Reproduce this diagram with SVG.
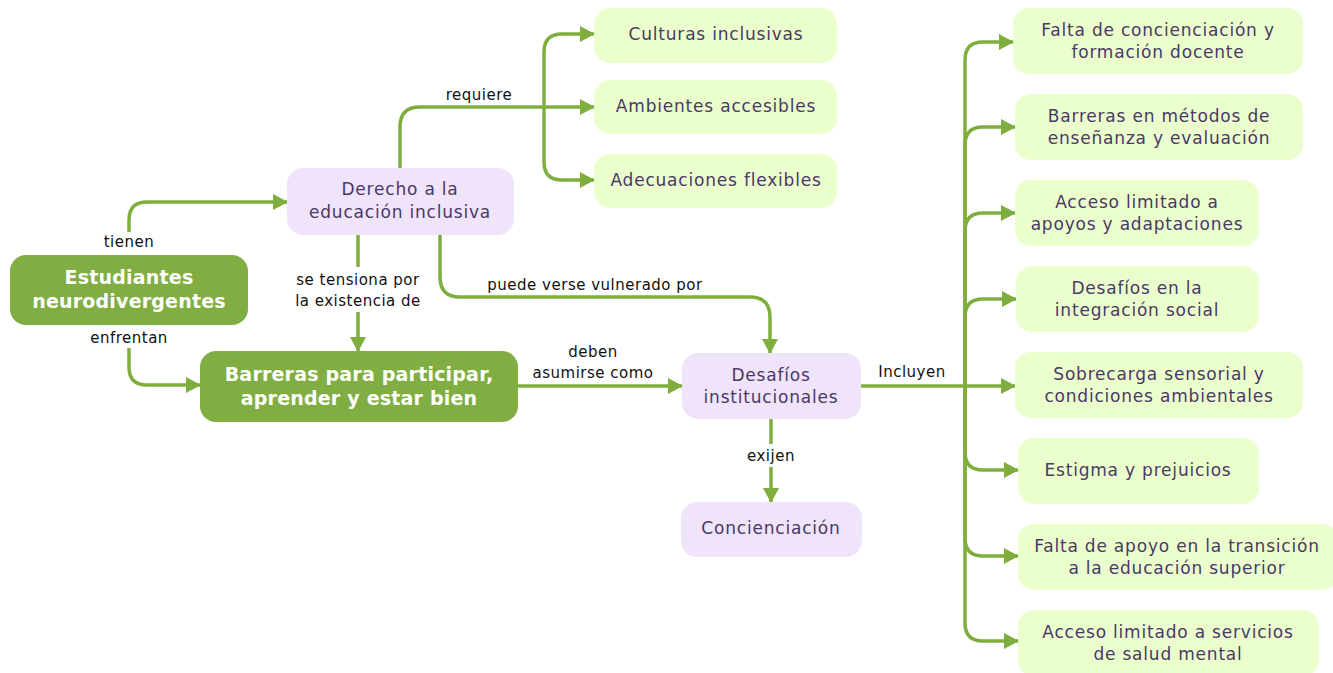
<svg xmlns="http://www.w3.org/2000/svg" width="1333" height="673" viewBox="0 0 1333 673">
<style>
.main rect{fill:#80ae42}
.main text{fill:#ffffff;font-family:"DejaVu Sans",sans-serif;font-size:19px;font-weight:bold;text-anchor:middle;letter-spacing:0.2px}
.lav rect{fill:#f0e4fa}
.lg rect{fill:#eaffcb}
.lav text,.lg text{fill:#4a3868;font-family:"DejaVu Sans",sans-serif;font-size:17px;letter-spacing:0.8px;text-anchor:middle}
.conn path{fill:none;stroke:#7fae3f;stroke-width:3.5}
.lbl{fill:#111111;font-family:"DejaVu Sans",sans-serif;font-size:15px;letter-spacing:0.5px;text-anchor:middle}
</style>
<defs>
<marker id="ah" markerUnits="userSpaceOnUse" markerWidth="15" markerHeight="18" refX="14" refY="9" orient="auto">
<path d="M0,1.5 L14,9 L0,16.5 Z" fill="#7fae3f" stroke="#7fae3f" stroke-width="1" stroke-linejoin="round"/>
</marker>
</defs>
<rect width="1333" height="673" fill="#ffffff"/>
<g class="conn">
<path d="M129,232 V220 Q129,202 147,202 H287" marker-end="url(#ah)"/>
<path d="M129,348 V367 Q129,385 147,385 H200" marker-end="url(#ah)"/>
<path d="M358,235 V267"/>
<path d="M358,312 V351" marker-end="url(#ah)"/>
<path d="M440,235 V277 Q440,297 460,297 H750 Q770,297 770,317 V353" marker-end="url(#ah)"/>
<path d="M400,168 V127 Q400,107 420,107 H594" marker-end="url(#ah)"/>
<path d="M544,107 V52 Q544,34 562,34 H594" marker-end="url(#ah)"/>
<path d="M544,107 V162 Q544,180 562,180 H594" marker-end="url(#ah)"/>
<path d="M518,386 H682" marker-end="url(#ah)"/>
<path d="M771,419 V444"/>
<path d="M771,467 V502" marker-end="url(#ah)"/>
<path d="M861,386 H1015" marker-end="url(#ah)"/>
<path d="M965,386 V60 Q965,42 983,42 H1013" marker-end="url(#ah)"/>
<path d="M965,386 V145 Q965,127 983,127 H1015" marker-end="url(#ah)"/>
<path d="M965,386 V231 Q965,213 983,213 H1015" marker-end="url(#ah)"/>
<path d="M965,386 V317 Q965,299 983,299 H1016" marker-end="url(#ah)"/>
<path d="M965,386 V452 Q965,470 983,470 H1018" marker-end="url(#ah)"/>
<path d="M965,386 V538 Q965,556 983,556 H1018" marker-end="url(#ah)"/>
<path d="M965,386 V623 Q965,641 983,641 H1018" marker-end="url(#ah)"/>
</g>
<g id="labels">
<text class="lbl" x="129" y="247">tienen</text>
<text class="lbl" x="129" y="343">enfrentan</text>
<text class="lbl" x="358" y="285">se tensiona por</text>
<text class="lbl" x="358" y="306">la existencia de</text>
<text class="lbl" x="595" y="290">puede verse vulnerado por</text>
<text class="lbl" x="479" y="100">requiere</text>
<text class="lbl" x="593" y="357">deben</text>
<text class="lbl" x="593" y="378">asumirse como</text>
<text class="lbl" x="771" y="461">exijen</text>
<text class="lbl" x="912" y="377">Incluyen</text>
</g>
<g id="estudiantes" class="main"><rect x="10" y="255" width="238" height="70" rx="16"/><text x="129" y="284">Estudiantes</text><text x="129" y="308">neurodivergentes</text></g>
<g id="derecho" class="lav"><rect x="287" y="168" width="227" height="67" rx="16"/><text x="400" y="195">Derecho a la</text><text x="400" y="218">educación inclusiva</text></g>
<g id="barreras" class="main"><rect x="200" y="351" width="318" height="71" rx="16"/><text x="359" y="381">Barreras para participar,</text><text x="359" y="405">aprender y estar bien</text></g>
<g id="desafios" class="lav"><rect x="682" y="353" width="179" height="66" rx="16"/><text x="771" y="381">Desafíos</text><text x="771" y="403">institucionales</text></g>
<g id="concienciacion" class="lav"><rect x="681" y="502" width="181" height="55" rx="16"/><text x="771" y="534">Concienciación</text></g>
<g id="culturas" class="lg"><rect x="594" y="8" width="243" height="55" rx="16"/><text x="716" y="40">Culturas inclusivas</text></g>
<g id="ambientes" class="lg"><rect x="594" y="80" width="243" height="54" rx="16"/><text x="716" y="112">Ambientes accesibles</text></g>
<g id="adecuaciones" class="lg"><rect x="594" y="154" width="243" height="54" rx="16"/><text x="716" y="186">Adecuaciones flexibles</text></g>
<g id="falta-concienciacion" class="lg"><rect x="1013" y="8" width="290" height="66" rx="16"/><text x="1158" y="36">Falta de concienciación y</text><text x="1158" y="58">formación docente</text></g>
<g id="barreras-metodos" class="lg"><rect x="1015" y="94" width="288" height="66" rx="16"/><text x="1159" y="122">Barreras en métodos de</text><text x="1159" y="144">enseñanza y evaluación</text></g>
<g id="acceso-apoyos" class="lg"><rect x="1015" y="180" width="244" height="66" rx="16"/><text x="1137" y="208">Acceso limitado a</text><text x="1137" y="230">apoyos y adaptaciones</text></g>
<g id="integracion" class="lg"><rect x="1016" y="266" width="243" height="66" rx="16"/><text x="1137" y="294">Desafíos en la</text><text x="1137" y="316">integración social</text></g>
<g id="sobrecarga" class="lg"><rect x="1015" y="352" width="288" height="66" rx="16"/><text x="1159" y="380">Sobrecarga sensorial y</text><text x="1159" y="402">condiciones ambientales</text></g>
<g id="estigma" class="lg"><rect x="1018" y="438" width="241" height="66" rx="16"/><text x="1138" y="476">Estigma y prejuicios</text></g>
<g id="transicion" class="lg"><rect x="1018" y="524" width="320" height="66" rx="16"/><text x="1177" y="552">Falta de apoyo en la transición</text><text x="1177" y="574">a la educación superior</text></g>
<g id="salud-mental" class="lg"><rect x="1018" y="610" width="301" height="66" rx="16"/><text x="1168" y="638">Acceso limitado a servicios</text><text x="1168" y="660">de salud mental</text></g>
</svg>
